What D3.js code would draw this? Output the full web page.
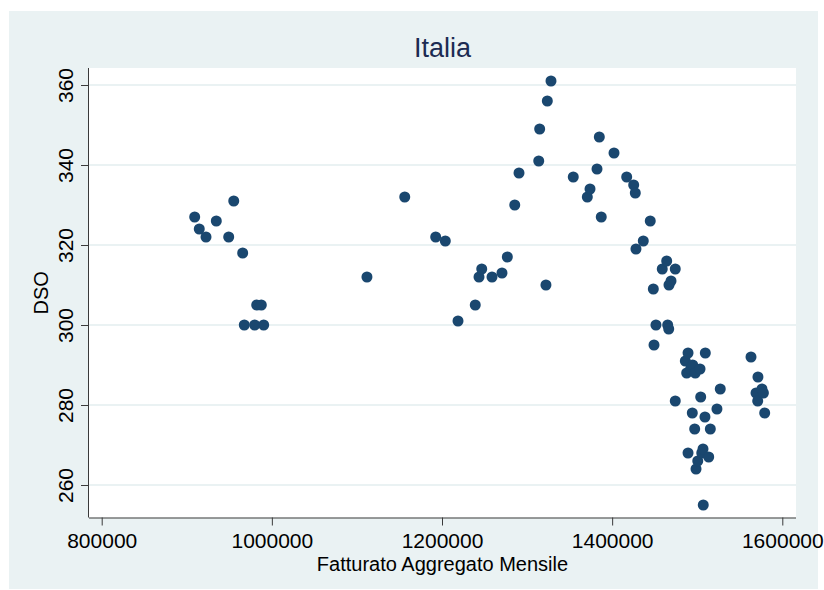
<!DOCTYPE html>
<html>
<head>
<meta charset="utf-8">
<script src="https://cdn.jsdelivr.net/npm/d3@7"></script>
<style>
  html, body { margin: 0; padding: 0; background: #ffffff; }
  svg { display: block; font-family: "Liberation Sans", Arial, Helvetica, sans-serif; }
</style>
</head>
<body>
<svg id="chart" width="824" height="590"></svg>
<script>
// Monthly aggregate turnover (x) and DSO (y), one entry per month
const fatturato = [
  909300, 914700, 922600, 934700, 955200, 949300, 965700, 982200, 987600, 967600,
  979800, 990400, 1111800, 1156200, 1192600, 1203900, 1218800, 1239100, 1243500, 1246700,
  1258800, 1270500, 1276800, 1285500, 1290500, 1313700, 1314800, 1322200, 1323800, 1328100,
  1354300, 1370800, 1374000, 1382200, 1384900, 1387200, 1402200, 1417100, 1425300, 1427200,
  1428000, 1436600, 1444800, 1448400, 1449200, 1451500, 1458900, 1464100, 1465300, 1466500,
  1466800, 1469200, 1474200, 1474200, 1486000, 1487600, 1489200, 1489200, 1492300, 1494200,
  1494700, 1497000, 1497700, 1498600, 1500600, 1503300, 1504100, 1505300, 1506800, 1507100,
  1509100, 1509500, 1513500, 1515400, 1523200, 1527100, 1563200, 1569100, 1571100, 1571400,
  1576100, 1577800, 1579300
];
const dso = [
  327, 324, 322, 326, 331, 322, 318, 305, 305, 300,
  300, 300, 312, 332, 322, 321, 301, 305, 312, 314,
  312, 313, 317, 330, 338, 341, 349, 310, 356, 361,
  337, 332, 334, 339, 347, 327, 343, 337, 335, 333,
  319, 321, 326, 309, 295, 300, 314, 316, 300, 299,
  310, 311, 314, 281, 291, 288, 293, 268, 289, 278,
  290, 274, 288, 264, 266, 289, 282, 268, 269, 255,
  277, 293, 267, 274, 279, 284, 292, 283, 281, 287,
  284, 283, 278
];

const xTicks = [800000, 1000000, 1200000, 1400000, 1600000];
const yTicks = [260, 280, 300, 320, 340, 360];

const titleText = "Italia";
const xTitle = "Fatturato Aggregato Mensile";
const yTitle = "DSO";

const svg = d3.select("#chart");

// outer graph region
svg.append("rect")
  .attr("x", 9).attr("y", 11)
  .attr("width", 809).attr("height", 578)
  .attr("fill", "#EAF2F3");

// plot region
const plot = { left: 89, right: 796, top: 68, bottom: 517.5 };
svg.append("rect")
  .attr("x", plot.left).attr("y", plot.top)
  .attr("width", plot.right - plot.left)
  .attr("height", plot.bottom - plot.top)
  .attr("fill", "#ffffff");

const x = d3.scaleLinear().domain([800000, 1600000]).range([101.7, 782.3]);
const y = d3.scaleLinear().domain([260, 360]).range([485, 85]);

// horizontal gridlines
svg.append("g")
  .selectAll("line")
  .data(yTicks)
  .join("line")
  .attr("x1", plot.left).attr("x2", plot.right)
  .attr("y1", d => y(d)).attr("y2", d => y(d))
  .attr("stroke", "#EAF2F3")
  .attr("stroke-width", 2);

// x axis
const xAxis = svg.append("g")
  .attr("transform", `translate(0,${plot.bottom})`)
  .call(d3.axisBottom(x).tickValues(xTicks).tickFormat(d3.format("d"))
    .tickSize(8).tickPadding(8).tickSizeOuter(0));
xAxis.select(".domain").attr("d", `M${plot.left},0.5H${plot.right}`);
xAxis.selectAll("path, line").attr("stroke", "#3a3a3a");
xAxis.selectAll("text")
  .attr("font-size", 21)
  .attr("font-family", "Liberation Sans, Arial, sans-serif")
  .attr("fill", "#000");

// y axis with vertical tick labels
const yAxis = svg.append("g")
  .attr("transform", `translate(${plot.left},0)`)
  .call(d3.axisLeft(y).tickValues(yTicks).tickFormat(d3.format("d"))
    .tickSize(8).tickSizeOuter(0));
yAxis.select(".domain").attr("d", `M-0.5,${plot.top}V${plot.bottom}`);
yAxis.selectAll("path, line").attr("stroke", "#3a3a3a");
yAxis.selectAll("text")
  .attr("x", null).attr("dy", null)
  .attr("text-anchor", "middle")
  .attr("transform", "translate(-16,0) rotate(-90)")
  .attr("font-size", 21)
  .attr("font-family", "Liberation Sans, Arial, sans-serif")
  .attr("fill", "#000");

// axis titles
svg.append("text")
  .attr("x", (plot.left + plot.right) / 2)
  .attr("y", 571)
  .attr("text-anchor", "middle")
  .attr("font-size", 20)
  .attr("fill", "#000")
  .text(xTitle);

svg.append("text")
  .attr("transform", `translate(48,${(plot.top + plot.bottom) / 2}) rotate(-90)`)
  .attr("text-anchor", "middle")
  .attr("font-size", 20)
  .attr("fill", "#000")
  .text(yTitle);

// chart title
svg.append("text")
  .attr("x", 442.5)
  .attr("y", 57)
  .attr("text-anchor", "middle")
  .attr("font-size", 27)
  .attr("fill", "#1C2B52")
  .text(titleText);

// scatter points
svg.append("g")
  .selectAll("circle")
  .data(d3.zip(fatturato, dso))
  .join("circle")
  .attr("cx", d => x(d[0]))
  .attr("cy", d => y(d[1]))
  .attr("r", 5.5)
  .attr("fill", "#1A476F");
</script>
</body>
</html>
